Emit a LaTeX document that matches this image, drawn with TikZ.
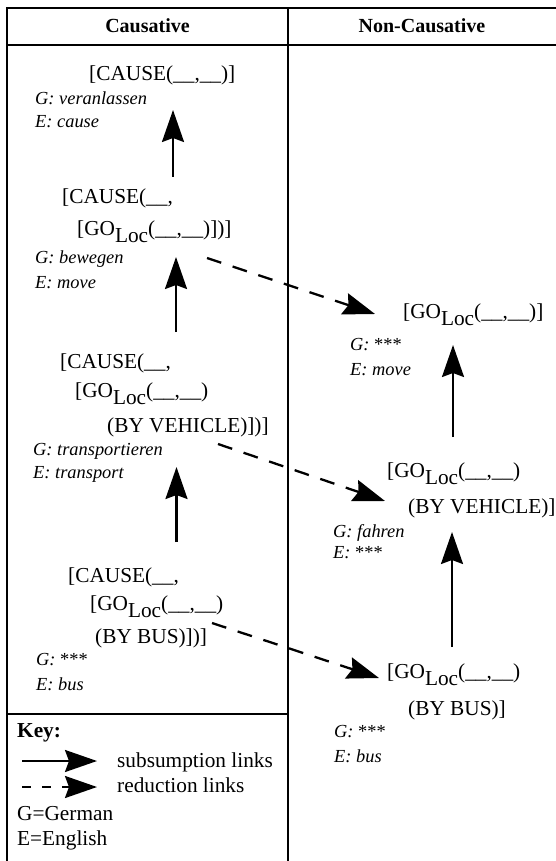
\documentclass[tikz,border=0pt]{standalone}
\usepackage{fontspec}
\setmainfont{Liberation Serif}
\usetikzlibrary{arrows.meta}
\newcommand\mainsz{\fontsize{21.3}{24}\selectfont}
\newcommand\glsz{\fontsize{18.4}{22}\selectfont\itshape}
\newcommand\hdsz{\fontsize{20}{24}\selectfont\bfseries}
\newcommand\uu{\_\_}
\newcommand\GOL{[GO\raisebox{-7.5pt}{Loc}(\uu,\uu)}
\newcommand\stars{\textup{***}}
\tikzset{
  frame/.style={line width=2.4pt},
  ln/.style={inner sep=0pt, anchor=base west, font=\mainsz},
  gl/.style={inner sep=0pt, anchor=base west, font=\glsz},
  hd/.style={inner sep=0pt, anchor=base, font=\hdsz},
  sublink/.style={line width=2.3pt, -{Stealth[length=32pt,width=22pt,inset=4pt]}},
  redlink/.style={sublink, dash pattern=on 15pt off 12pt},
}
\begin{document}
\begin{tikzpicture}[x=1pt,y=-1pt]
\useasboundingbox (0,0) rectangle (556,861);
% frame
\draw[frame] (556,8) -- (7,8) -- (7,861);
\draw[frame] (7,45) -- (556,45);
\draw[frame] (288,8) -- (288,861);
\draw[frame] (7,714) -- (288,714);
% headers
\node[hd] (hc) at (147.5,33) {Causative};
\node[hd] (hn) at (422,33) {Non-Causative};
% left column
\node[ln] (c1) at (89,81) {[CAUSE(\uu,\uu)]};
\node[gl] (c1g) at (35,105) {G: veranlassen};
\node[gl] (c1e) at (35,128) {E: cause};

\node[ln] (c2a) at (62,203) {[CAUSE(\uu,};
\node[ln] (c2b) at (77,235) {\GOL])]};
\node[gl] (c2g) at (35,263) {G: bewegen};
\node[gl] (c2e) at (35,288) {E: move};

\node[ln] (c3a) at (60,368) {[CAUSE(\uu,};
\node[ln] (c3b) at (75,397) {\GOL};
\node[ln] (c3c) at (107,432) {(BY VEHICLE)])]};
\node[gl] (c3g) at (33,455) {G: transportieren};
\node[gl] (c3e) at (33,478) {E: transport};

\node[ln] (c4a) at (68,582) {[CAUSE(\uu,};
\node[ln] (c4b) at (90,610) {\GOL};
\node[ln] (c4c) at (95,643) {(BY BUS)])]};
\node[gl] (c4g) at (36,665) {G: \stars};
\node[gl] (c4e) at (36,690) {E: bus};

% right column
\node[ln] (n1) at (403,318) {\GOL]};
\node[gl] (n1g) at (350,350) {G: \stars};
\node[gl] (n1e) at (350,375) {E: move};

\node[ln] (n2a) at (387,477) {\GOL};
\node[ln] (n2b) at (408,513) {(BY VEHICLE)]};
\node[gl] (n2g) at (333,537) {G: fahren};
\node[gl] (n2e) at (333,558) {E: \stars};

\node[ln] (n3a) at (387,678) {\GOL};
\node[ln] (n3b) at (408,715) {(BY BUS)]};
\node[gl] (n3g) at (334,737) {G: \stars};
\node[gl] (n3e) at (334,762) {E: bus};

% key
\node[ln, font=\mainsz\bfseries] (key) at (17,737) {Key:};
\node[ln] (ks) at (117,767) {subsumption links};
\node[ln] (kr) at (117,792) {reduction links};
\node[ln] (kg) at (17,820) {G=German};
\node[ln] (ke) at (17,845) {E=English};

% connector end points
\coordinate (a1s) at (173,177); \coordinate (a1t) at (173,110);
\coordinate (a2s) at (176,332); \coordinate (a2t) at (176,257);
\coordinate (a3s) at (176.5,542); \coordinate (a3t) at (176.5,467);
\coordinate (b1s) at (453,437); \coordinate (b1t) at (453,345);
\coordinate (b2s) at (452,647); \coordinate (b2t) at (452,532);
\coordinate (d1s) at (207,258); \coordinate (d1t) at (375,314);
\coordinate (d2s) at (218,444); \coordinate (d2t) at (385,501);
\coordinate (d3s) at (212,623); \coordinate (d3t) at (379,678);
\coordinate (k1s) at (22,761); \coordinate (k1t) at (97,761);
\coordinate (k2s) at (22,787); \coordinate (k2t) at (97,787);

\draw[sublink] (a1s) -- (a1t);
\draw[sublink] (a2s) -- (a2t);
\draw[sublink] (a3s) -- (a3t);
\draw[sublink] (b1s) -- (b1t);
\draw[sublink] (b2s) -- (b2t);
\draw[redlink] (d1s) -- (d1t);
\draw[redlink] (d2s) -- (d2t);
\draw[redlink] (d3s) -- (d3t);
\draw[sublink] (k1s) -- (k1t);
\draw[sublink, dash pattern=on 9pt off 11pt] (k2s) -- (k2t);
\end{tikzpicture}
\end{document}
